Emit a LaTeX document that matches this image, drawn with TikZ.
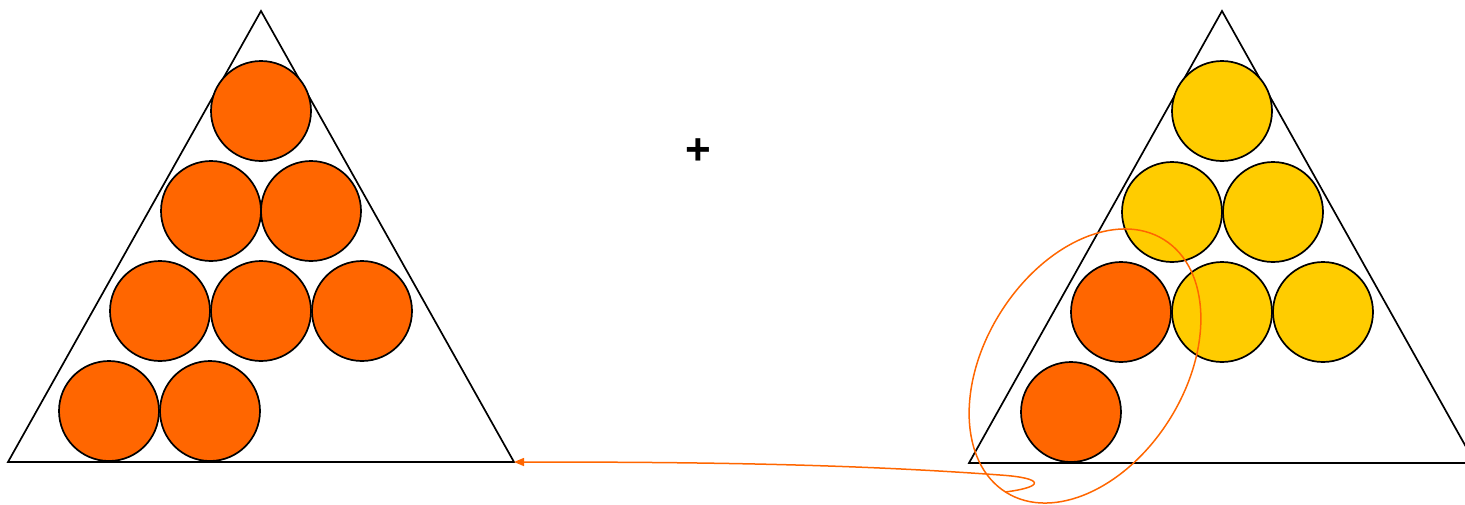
\documentclass[tikz,border=0pt]{standalone}
\usepackage{fontspec}
\setmainfont{Liberation Sans}
\usetikzlibrary{arrows.meta}
\definecolor{ball}{HTML}{FF6600}
\definecolor{gold}{HTML}{FFCC00}
\tikzset{
  ballnode/.style={circle, draw=black, line width=1.7pt, minimum size=100pt, inner sep=0pt, fill=ball},
  goldnode/.style={ballnode, fill=gold},
  rack/.style={draw=black, line width=1.7pt, line join=miter},
  lasso/.style={draw=ball, line width=1.5pt},
}
\begin{document}
\begin{tikzpicture}[x=1pt, y=-1pt]
\useasboundingbox (0,0) rectangle (1465,504);
% left rack
\draw[rack] (8,462) -- (261,11) -- (514,462) -- cycle;
\node[ballnode] (l1) at (261,111) {};
\node[ballnode] (l2) at (211,211) {};
\node[ballnode] (l3) at (311,211) {};
\node[ballnode] (l4) at (160,311) {};
\node[ballnode] (l5) at (261,311) {};
\node[ballnode] (l6) at (362,311) {};
\node[ballnode] (l7) at (109,411) {};
\node[ballnode] (l8) at (210,411) {};
\coordinate (tip) at (514,462);
% plus
\node[font=\fontsize{44}{44}\selectfont\bfseries] (plus) at (698,152) {+};
% right rack
\begin{scope}
\clip (0,0) rectangle (1465,504);
\draw[rack] (969,463) -- (1222,11) -- (1475,463) -- cycle;
\end{scope}
\node[goldnode] (r1) at (1222,111) {};
\node[goldnode] (r2) at (1172,212) {};
\node[goldnode] (r3) at (1273,212) {};
\node[ballnode] (r4) at (1121,312) {};
\node[goldnode] (r5) at (1222,312) {};
\node[goldnode] (r6) at (1323,312) {};
\node[ballnode] (r7) at (1071,412) {};
% lasso
\draw[lasso, rotate around={58:(1085,366)}] (1085,366) ellipse [x radius=149, y radius=100];
\coordinate (tail) at (1005,492);
\draw[lasso, -{Triangle[length=10pt, width=8pt]}] (tail) .. controls (1045,487) and (1045,478) .. (1000,475) .. controls (850,464) and (700,462) .. (tip);
\end{tikzpicture}
\end{document}
